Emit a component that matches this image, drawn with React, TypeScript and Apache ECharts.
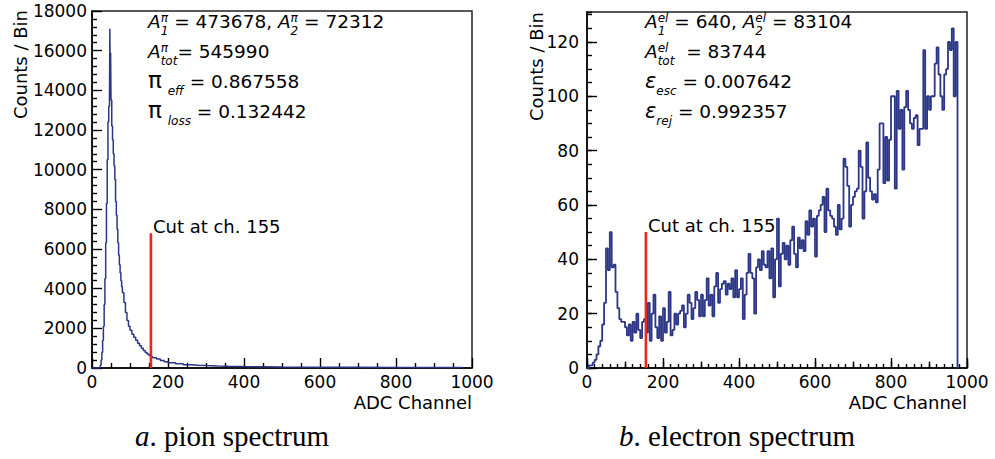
import React, { useEffect, useRef } from "react";
import * as echarts from "echarts";

const FONT = "DejaVu Sans";
const SERIF = "Liberation Serif";

// ---------- data ----------
const pionEdges = [0, 20, 22, 24, 26, 28, 30, 32, 34, 36, 38, 40, 42, 44, 46, 47, 48, 49, 50, 51, 52, 54, 56, 58, 60, 62, 64, 66, 68, 70, 72, 74, 76, 78, 80, 84, 88, 92, 96, 100, 105, 110, 115, 120, 125, 130, 135, 140, 145, 150, 155, 160, 170, 180, 190, 200, 220, 240, 260, 280, 300, 330, 360, 400, 450, 500, 600, 700, 800, 900, 975];
const pionCounts = [0, 0, 150, 400, 800, 1400, 2100, 3200, 4500, 6300, 8300, 10500, 12400, 13200, 13500, 17100, 13600, 15900, 13500, 13500, 12200, 11500, 10800, 10200, 9500, 8400, 7700, 7000, 6300, 5700, 5200, 4800, 4400, 4100, 3800, 3300, 2800, 2400, 2100, 1900, 1700, 1550, 1400, 1250, 1120, 1000, 880, 780, 700, 630, 570, 520, 450, 380, 320, 270, 210, 170, 140, 120, 100, 85, 70, 60, 50, 42, 35, 30, 25, 20, 0];

const elecBinWidth = 5;
const elecCounts = [
  0, 1, 1, 2, 3, 5, 8, 10, 16, 24,
  44, 36, 50, 37, 38, 28, 22, 18, 17, 17,
  15, 12, 16, 10, 17, 13, 20, 14, 11, 17,
  18, 13, 24, 10, 20, 27, 15, 11, 19, 10,
  22, 13, 17, 28, 12, 14, 20, 16, 20, 21,
  23, 15, 20, 27, 24, 18, 22, 28, 25, 19,
  27, 19, 25, 33, 23, 27, 19, 30, 35, 24,
  29, 31, 32, 27, 31, 29, 33, 26, 36, 26,
  29, 33, 18, 27, 35, 42, 35, 33, 20, 37,
  40, 36, 43, 38, 37, 43, 33, 44, 26, 40,
  55, 30, 42, 46, 40, 45, 38, 47, 52, 42,
  37, 48, 44, 47, 43, 54, 49, 58, 52, 55,
  41, 56, 58, 60, 63, 50, 66, 58, 56, 55,
  52, 49, 60, 51, 55, 77, 74, 67, 52, 60,
  63, 65, 66, 80, 74, 55, 65, 83, 70, 65,
  62, 64, 61, 73, 90, 90, 68, 85, 69, 84,
  100, 100, 66, 102, 88, 95, 73, 96, 102, 95,
  90, 88, 92, 93, 82, 88, 88, 117, 88, 100,
  95, 100, 100, 112, 118, 108, 100, 95, 108, 110,
  120, 117, 125, 100, 120,
];
const elecEnd = 975;

const cutChannel = 155;
const pionCutTop = 6800;
const elecCutTop = 50;
const cutText = "Cut at ch. 155";

type Seg = { t?: string; it?: boolean; size?: number; sup?: string; sub?: string };

const pionAnnotation: Seg[][] = [
  [{ t: "A", it: true }, { sup: "π", sub: "1" }, { t: " = 473678, " }, { t: "A", it: true }, { sup: "π", sub: "2" }, { t: " = 72312" }],
  [{ t: "A", it: true }, { sup: "π", sub: "tot" }, { t: "= 545990" }],
  [{ t: "π", size: 23 }, { t: " " }, { sub: "eff" }, { t: " = 0.867558" }],
  [{ t: "π", size: 23 }, { t: " " }, { sub: "loss" }, { t: " = 0.132442" }],
];
const elecAnnotation: Seg[][] = [
  [{ t: "A", it: true }, { sup: "el", sub: "1" }, { t: " = 640, " }, { t: "A", it: true }, { sup: "el", sub: "2" }, { t: " = 83104" }],
  [{ t: "A", it: true }, { sup: "el", sub: "tot" }, { t: "  = 83744" }],
  [{ t: "ε", it: true, size: 21 }, { sub: "esc" }, { t: " = 0.007642" }],
  [{ t: "ε", it: true, size: 21 }, { sub: "rej" }, { t: " = 0.992357" }],
];

const yTitle = "Counts / Bin";
const xTitle = "ADC Channel";
const captionLeft = ["a", ". pion spectrum"];
const captionRight = ["b", ". electron spectrum"];

// ---------- helpers ----------
let measureCtx: CanvasRenderingContext2D | null = null;
function tw(text: string, size: number, italic?: boolean): number {
  if (!measureCtx) measureCtx = document.createElement("canvas").getContext("2d");
  if (!measureCtx) return text.length * size * 0.6;
  measureCtx.font = `${italic ? "italic " : ""}${size}px "${FONT}"`;
  return measureCtx.measureText(text).width;
}

function txt(x: number, base: number, t: string, size: number, italic?: boolean) {
  return {
    type: "text",
    x,
    y: base - 0.346 * size,
    silent: true,
    style: {
      text: t,
      fontSize: size,
      fontFamily: FONT,
      fontStyle: italic ? "italic" : "normal",
      fill: "#000",
      align: "left",
      verticalAlign: "middle",
    },
  };
}

function buildRow(x0: number, base: number, segs: Seg[], size: number) {
  const els: any[] = [];
  let x = x0;
  const small = 12;
  for (const s of segs) {
    if (s.t !== undefined) {
      const sz = s.size || size;
      els.push(txt(x, base, s.t, sz, s.it));
      x += tw(s.t, sz, s.it);
    } else {
      let w = 0;
      if (s.sup) {
        els.push(txt(x, base - 6, s.sup, small, true));
        w = Math.max(w, tw(s.sup, small, true));
      }
      if (s.sub) {
        els.push(txt(x, base + 7.5, s.sub, small, true));
        w = Math.max(w, tw(s.sub, small, true));
      }
      x += w;
    }
  }
  return els;
}

function buildAnnotation(x0: number, rows: Seg[][]) {
  const baselines = [28, 58, 88, 118];
  const out: any[] = [];
  rows.forEach((r, i) => out.push(...buildRow(x0, baselines[i], r, 18.5)));
  return out;
}

const axisLineStyle = { color: "#000", width: 1.5 };
const tickStyle = { color: "#000", width: 1.4 };
const labelStyle = { color: "#000", fontSize: 17, fontFamily: FONT, formatter: (v: number) => String(v) };

export default function App() {
  const ref = useRef<HTMLDivElement>(null);

  useEffect(() => {
    if (!ref.current) return;
    const chart = echarts.init(ref.current, null, { renderer: "svg" });

    const pionData = pionEdges.map((e, i) => [e, pionCounts[i]]);
    const elecData = elecCounts.map((v, i) => [i * elecBinWidth, v]);
    elecData.push([elecEnd, 0]);

    const tickOnly = (extra: any) => ({
      type: "value",
      axisLine: { show: false, onZero: false },
      axisLabel: { show: false },
      splitLine: { show: false },
      minorSplitLine: { show: false },
      ...extra,
    });

    const option: any = {
      animation: false,
      backgroundColor: "#fff",
      textStyle: { fontFamily: FONT },
      grid: [
        { left: 92, top: 11, width: 380, height: 357, show: true, borderColor: "#222", borderWidth: 1.5, backgroundColor: "transparent", outerBoundsMode: "none", containLabel: false },
        { left: 587, top: 12, width: 380, height: 356, show: true, borderColor: "#222", borderWidth: 1.5, backgroundColor: "transparent", outerBoundsMode: "none", containLabel: false },
      ],
      xAxis: [
        {
          gridIndex: 0, type: "value", min: 0, max: 1000, interval: 200, position: "bottom",
          axisLine: { show: true, lineStyle: axisLineStyle },
          axisTick: { show: true, inside: true, length: 10, lineStyle: tickStyle },
          minorTick: { show: true, splitNumber: 4, length: 5, lineStyle: tickStyle },
          axisLabel: { ...labelStyle, margin: 5 },
          splitLine: { show: false }, minorSplitLine: { show: false },
        },
        {
          gridIndex: 1, type: "value", min: 0, max: 1000, interval: 200, position: "bottom",
          axisLine: { show: true, lineStyle: axisLineStyle },
          axisTick: { show: true, inside: true, length: 10, lineStyle: tickStyle },
          minorTick: { show: true, splitNumber: 10, length: 4, lineStyle: tickStyle },
          axisLabel: { ...labelStyle, margin: 5 },
          splitLine: { show: false }, minorSplitLine: { show: false },
        },
        tickOnly({
          gridIndex: 1, min: 0, max: 1000, interval: 100, position: "bottom",
          axisTick: { show: true, inside: true, length: 6.5, lineStyle: tickStyle },
        }),
      ],
      yAxis: [
        {
          gridIndex: 0, type: "value", min: 0, max: 18000, interval: 2000, position: "left",
          axisLine: { show: true, lineStyle: axisLineStyle },
          axisTick: { show: true, inside: true, length: 10, lineStyle: tickStyle },
          minorTick: { show: true, splitNumber: 5, length: 5, lineStyle: tickStyle },
          axisLabel: { ...labelStyle, margin: 5 },
          splitLine: { show: false }, minorSplitLine: { show: false },
        },
        {
          gridIndex: 1, type: "value", min: 0, max: 131, interval: 20, position: "left",
          axisLine: { show: true, lineStyle: axisLineStyle },
          axisTick: { show: true, inside: true, length: 10, lineStyle: tickStyle },
          axisLabel: { ...labelStyle, margin: 8, showMaxLabel: false },
          splitLine: { show: false },
        },
        tickOnly({
          gridIndex: 1, min: 0, max: 131, interval: 5, position: "left",
          axisTick: { show: true, inside: true, length: 5, lineStyle: tickStyle },
        }),
      ],
      series: [
        {
          type: "line", xAxisIndex: 0, yAxisIndex: 0, step: "end", data: pionData,
          showSymbol: false, symbol: "none", lineStyle: { color: "#2c3687", width: 1.5 }, z: 2,
        },
        {
          type: "line", xAxisIndex: 0, yAxisIndex: 0, data: [[cutChannel, 0], [cutChannel, pionCutTop]],
          showSymbol: false, symbol: "none", lineStyle: { color: "#e8291c", width: 2.6 }, z: 3,
        },
        {
          type: "line", xAxisIndex: 1, yAxisIndex: 1, step: "end", data: elecData,
          showSymbol: false, symbol: "none", lineStyle: { color: "#2c3687", width: 1.8 }, z: 2,
        },
        {
          type: "line", xAxisIndex: 1, yAxisIndex: 1, data: [[cutChannel, 0], [cutChannel, elecCutTop]],
          showSymbol: false, symbol: "none", lineStyle: { color: "#e8291c", width: 2.6 }, z: 3,
        },
      ],
    };
    chart.setOption(option);

    const pCut = chart.convertToPixel({ xAxisIndex: 0, yAxisIndex: 0 } as any, [cutChannel, pionCutTop]) as number[];
    const eCut = chart.convertToPixel({ xAxisIndex: 1, yAxisIndex: 1 } as any, [cutChannel, elecCutTop]) as number[];

    const caption = (x: number, parts: string[]) => ({
      type: "text", x, y: 446 - 0.338 * 29, silent: true,
      style: {
        text: `{i|${parts[0]}}${parts[1]}`, fontSize: 29, fontFamily: SERIF, fill: "#000",
        align: "center", verticalAlign: "middle",
        rich: { i: { fontStyle: "italic", fontSize: 29, fontFamily: SERIF, fill: "#000" } },
      },
    });

    const graphic: any[] = [
      ...buildAnnotation(148, pionAnnotation),
      ...buildAnnotation(645, elecAnnotation),
      txt(pCut[0] + 2, pCut[1], cutText, 18),
      txt(eCut[0] + 2, eCut[1], cutText, 18),
      {
        type: "text", x: 20, y: 10, rotation: Math.PI / 2, silent: true,
        style: { text: yTitle, fontSize: 18, fontFamily: FONT, fill: "#000", align: "right", verticalAlign: "middle" },
      },
      {
        type: "text", x: 536.5, y: 12, rotation: Math.PI / 2, silent: true,
        style: { text: yTitle, fontSize: 18, fontFamily: FONT, fill: "#000", align: "right", verticalAlign: "middle" },
      },
      {
        type: "text", x: 472, y: 409 - 6.2, silent: true,
        style: { text: xTitle, fontSize: 18, fontFamily: FONT, fill: "#000", align: "right", verticalAlign: "middle" },
      },
      {
        type: "text", x: 967, y: 409 - 6.2, silent: true,
        style: { text: xTitle, fontSize: 18, fontFamily: FONT, fill: "#000", align: "right", verticalAlign: "middle" },
      },
      caption(232, captionLeft),
      caption(737, captionRight),
    ];
    chart.setOption({ graphic });

    return () => chart.dispose();
  }, []);

  return (
    <div
      ref={ref}
      style={{ position: "absolute", left: 0, top: 0, width: 995, height: 459, background: "#fff" }}
    />
  );
}
